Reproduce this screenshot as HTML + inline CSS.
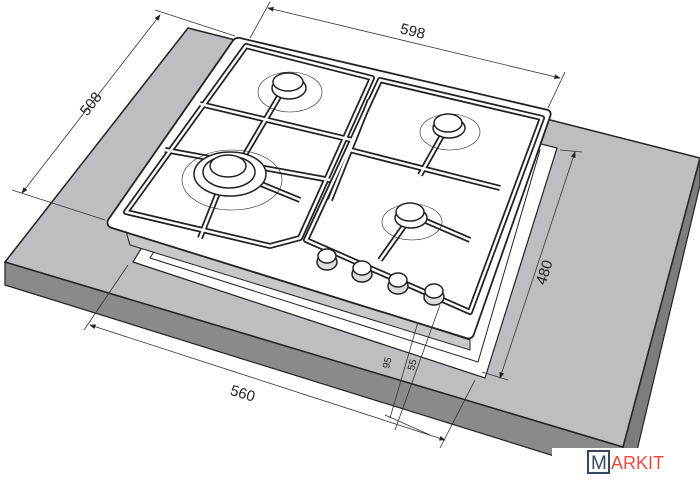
<!DOCTYPE html>
<html><head><meta charset="utf-8"><style>
html,body{margin:0;padding:0;background:#fff;}
svg{display:block;font-family:"Liberation Sans",sans-serif;}
</style></head><body>
<svg width="700" height="484" viewBox="0 0 700 484" xmlns="http://www.w3.org/2000/svg">
<defs>
<marker id="a" markerWidth="8" markerHeight="6" refX="7" refY="3" orient="auto"><path d="M0,0 L8,3 L0,6 z" fill="#222"/></marker>
<marker id="b" markerWidth="8" markerHeight="6" refX="1" refY="3" orient="auto"><path d="M8,0 L0,3 L8,6 z" fill="#222"/></marker>
</defs>
<!-- countertop -->
<polygon points="5,262 623,447 625,478 5,285" fill="#8a8a8c" stroke="#222" stroke-width="1.2"/>
<polygon points="700,158 700,185 630,480 623,447" fill="#7d7d80" stroke="#222" stroke-width="1.2"/>
<polygon points="188,28 700,158 623,447 5,262" fill="#bebec2" stroke="#222" stroke-width="1.5"/>
<!-- cutout -->
<polygon points="133,262 485,378 557,148 250,70" fill="#fff" stroke="#222" stroke-width="1.2"/>
<polygon points="150,258 478,362 540,150 260,80" fill="#fff" stroke="#222" stroke-width="1"/>
<!-- hob underbody -->
<polygon points="125,228 470,340 470,350 130,245" fill="#c8c8c8" stroke="#222" stroke-width="1"/>
<!-- hob plate -->
<path d="M240,38 L548,110 Q552,112 550,117 L474,334 Q472,340 466,338 L112,228 Q106,226 108,220 L232,42 Q235,37 240,38 Z" fill="#fff" stroke="#222" stroke-width="1.8"/>
<!-- grates -->
<g fill="none" stroke-linejoin="round">
<g stroke="#222" stroke-width="6">
<path d="M246,46 L372,78 L300,238 L270,246 L126,212 Z"/>
<path d="M380,80 L542,118 L470,312 L306,240 Z"/>
<path d="M200,104 L352,140"/><path d="M165,150 L330,180"/><path d="M287,83 L230,180"/><path d="M227,170 L200,238"/><path d="M227,170 L300,200"/>
<path d="M350,150 L500,188"/><path d="M448,125 L420,175"/><path d="M412,215 L380,260"/><path d="M412,215 L470,240"/><path d="M370,100 L330,200"/>
</g>
<g stroke="#fff" stroke-width="2.5">
<path d="M246,46 L372,78 L300,238 L270,246 L126,212 Z"/>
<path d="M380,80 L542,118 L470,312 L306,240 Z"/>
<path d="M200,104 L352,140"/><path d="M165,150 L330,180"/><path d="M287,83 L230,180"/><path d="M227,170 L200,238"/><path d="M227,170 L300,200"/>
<path d="M350,150 L500,188"/><path d="M448,125 L420,175"/><path d="M412,215 L380,260"/><path d="M412,215 L470,240"/><path d="M370,100 L330,200"/>
</g>
</g>
<!-- burners -->
<g stroke="#222" fill="#fff">
<ellipse cx="290" cy="92" rx="32" ry="20" fill="none" stroke-width=".6"/>
<ellipse cx="289" cy="88" rx="17" ry="11" stroke-width="1.5"/><ellipse cx="288" cy="82" rx="15" ry="9" stroke-width="1.5"/>
<ellipse cx="450" cy="132" rx="30" ry="18" fill="none" stroke-width=".6"/>
<ellipse cx="449" cy="128" rx="16" ry="10" stroke-width="1.5"/><ellipse cx="448" cy="123" rx="14" ry="9" stroke-width="1.5"/>
<ellipse cx="412" cy="222" rx="30" ry="18" fill="none" stroke-width=".6"/>
<ellipse cx="411" cy="218" rx="16" ry="10" stroke-width="1.5"/><ellipse cx="410" cy="212" rx="14" ry="9" stroke-width="1.5"/>
<ellipse cx="232" cy="180" rx="50" ry="30" fill="none" stroke-width=".6"/>
<ellipse cx="230" cy="174" rx="36" ry="22" stroke-width="1.5"/><ellipse cx="229" cy="172" rx="26" ry="16" stroke-width="1.5"/><ellipse cx="228" cy="166" rx="18" ry="11" stroke-width="1.5"/>
</g>
<!-- knobs -->
<g stroke="#222" fill="#fff" stroke-width="1.5">
<ellipse cx="327" cy="262" rx="10" ry="8" fill="#ddd"/><ellipse cx="327" cy="256" rx="9" ry="7"/>
<ellipse cx="362" cy="274" rx="10" ry="8" fill="#ddd"/><ellipse cx="362" cy="268" rx="9" ry="7"/>
<ellipse cx="398" cy="286" rx="10" ry="8" fill="#ddd"/><ellipse cx="398" cy="280" rx="9" ry="7"/>
<ellipse cx="434" cy="297" rx="10" ry="8" fill="#ddd"/><ellipse cx="434" cy="291" rx="9" ry="7"/>
</g>
<!-- dimensions -->
<g stroke="#333" stroke-width=".8" fill="none">
<path d="M268,8 L560,78" marker-start="url(#b)" marker-end="url(#a)"/>
<path d="M270,2 L250,38 M565,72 L548,108"/>
<path d="M160,15 L22,193" marker-start="url(#b)" marker-end="url(#a)"/>
<path d="M155,10 L235,36 M12,190 L105,220"/>
<path d="M575,152 L500,378" marker-start="url(#b)" marker-end="url(#a)"/>
<path d="M560,150 L582,152 M482,372 L508,380"/>
<path d="M90,325 L445,440" marker-start="url(#b)" marker-end="url(#a)"/>
<path d="M128,265 L84,330 M475,380 L440,448"/>
<path d="M418,322 L390,418 M440,305 L395,430 M385,415 L430,435"/>
</g>
<g fill="#222" font-size="15">
<text x="400" y="36" transform="rotate(14 412 32)">598</text>
<text x="75" y="108" transform="rotate(-52 90 100)">508</text>
<text x="530" y="275" transform="rotate(-72 545 270)">480</text>
<text x="230" y="400" transform="rotate(17 248 395)">560</text>
<text x="385" y="372" font-size="10" transform="rotate(-75 385 368)">95</text>
<text x="410" y="374" font-size="10" transform="rotate(-75 410 370)">55</text>
</g>
<!-- logo -->
<rect x="552" y="448" width="148" height="36" fill="#fff"/>
<rect x="588" y="451" width="21" height="22" fill="#fff" stroke="#34495e" stroke-width="2"/>
<text x="591" y="469" font-size="19" fill="#34495e">M</text>
<text x="611" y="469" font-size="18" fill="#e74c3c">ARKIT</text>
</svg>
</body></html>
